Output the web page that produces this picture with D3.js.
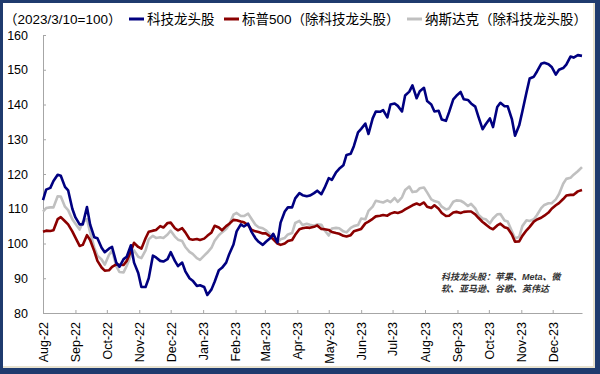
<!DOCTYPE html>
<html>
<head>
<meta charset="utf-8">
<script src="https://cdn.jsdelivr.net/npm/d3@7"></script>
<style>
  body { margin: 0; background: #fff; }
  text { font-family: Arial, "Liberation Sans", "Noto Sans CJK SC", sans-serif; }
</style>
</head>
<body>
<div id="chart"></div>
<script>
// values, twice a week
var dates = ["2022-08-01","2022-08-04","2022-08-08","2022-08-11","2022-08-15","2022-08-18","2022-08-22","2022-08-25","2022-08-29","2022-09-01","2022-09-05","2022-09-08","2022-09-12","2022-09-15","2022-09-19","2022-09-22","2022-09-26","2022-09-29","2022-10-03","2022-10-06","2022-10-10","2022-10-13","2022-10-17","2022-10-20","2022-10-24","2022-10-27","2022-10-31","2022-11-03","2022-11-07","2022-11-10","2022-11-14","2022-11-17","2022-11-21","2022-11-24","2022-11-28","2022-12-01","2022-12-05","2022-12-08","2022-12-12","2022-12-15","2022-12-19","2022-12-22","2022-12-26","2022-12-29","2023-01-02","2023-01-05","2023-01-09","2023-01-12","2023-01-16","2023-01-19","2023-01-23","2023-01-26","2023-01-30","2023-02-02","2023-02-06","2023-02-09","2023-02-13","2023-02-16","2023-02-20","2023-02-23","2023-02-27","2023-03-02","2023-03-06","2023-03-09","2023-03-13","2023-03-16","2023-03-20","2023-03-23","2023-03-27","2023-03-30","2023-04-03","2023-04-06","2023-04-10","2023-04-13","2023-04-17","2023-04-20","2023-04-24","2023-04-27","2023-05-01","2023-05-04","2023-05-08","2023-05-11","2023-05-15","2023-05-18","2023-05-22","2023-05-25","2023-05-29","2023-06-01","2023-06-05","2023-06-08","2023-06-12","2023-06-15","2023-06-19","2023-06-22","2023-06-26","2023-06-29","2023-07-03","2023-07-06","2023-07-10","2023-07-13","2023-07-17","2023-07-20","2023-07-24","2023-07-27","2023-07-31","2023-08-03","2023-08-07","2023-08-10","2023-08-14","2023-08-17","2023-08-21","2023-08-24","2023-08-28","2023-08-31","2023-09-04","2023-09-07","2023-09-11","2023-09-14","2023-09-18","2023-09-21","2023-09-25","2023-09-28","2023-10-02","2023-10-05","2023-10-09","2023-10-12","2023-10-16","2023-10-19","2023-10-23","2023-10-26","2023-10-30","2023-11-02","2023-11-06","2023-11-09","2023-11-13","2023-11-16","2023-11-20","2023-11-23","2023-11-27","2023-11-30","2023-12-04","2023-12-07","2023-12-11","2023-12-14","2023-12-18","2023-12-21","2023-12-25","2023-12-29"];

var techValues = [112.5,115.5,116,118,119.8,119.5,116.3,115.3,110,107.5,105.5,105.5,110.5,105.5,101.8,101.5,98.8,97.5,98.5,99,94.5,93.3,95.5,96.2,99.5,94.5,91.5,87.5,87.5,90,96.5,96,95,94.8,95.5,97.5,95,93.5,94.5,92,90,89.3,87.8,88,87.5,85.2,86.8,89,92.3,93,94.5,97,99.7,103.5,105.5,104.9,105.7,103.5,101.5,100.5,99.6,100.5,101.5,102.8,100.3,106,109.2,110.4,110.4,113,114.5,113.9,113.6,113.8,114.5,115.2,114.2,116,118.8,118.3,120.5,121.5,122.5,125.5,125.8,128,132,133,134.5,131.5,136,138,137.9,138.4,136.3,140,140.3,139.6,138,142.6,143.7,145.5,141.8,143.8,144.8,141,140,138,138.2,135.7,135.3,137.8,141.5,142.5,143.6,141.5,141.3,140.3,139.4,136.5,132.9,134.3,136,133.5,139.3,140.5,139.5,139.5,135.8,131,134,138,143.5,147.5,148,149.5,151.7,152,151.6,150.8,148.6,150,150.5,151.5,153.8,153.5,154.2,154];

var spxValues = [103.4,103.7,103.6,103.8,107,107.6,106.4,105.5,103.5,101.7,99.3,99.6,102.4,101,97.8,95,93.1,92.2,92.3,93.3,94,93.9,93.8,95,97.8,100.2,99,98.5,101.5,103.4,103.7,103.9,105,104.6,105.9,106,104.4,103.8,104.4,103.2,101.3,101.1,101.3,101,101.4,102.2,103.2,105.1,104.6,103.8,105,105.7,106.8,106.7,106.3,106.1,105.3,104,103.5,103.3,102.9,102.9,102,101.2,100,99.6,100,100.7,101,102.5,104.1,104.4,104.6,104.5,104.8,105.2,104.2,104.1,103.9,103.3,103,102.8,102.2,102,102.4,103.5,103.9,104.2,105.8,106.3,107.1,107.8,108,108.2,108,108.6,109,108.8,109.2,109.8,110.5,111,111.5,111.1,111.8,110.6,110.2,111,110,108.8,107.9,108,108.9,109.1,108.8,109.1,109.2,109.2,108.4,107.4,106.2,105.5,104.5,104.1,105.2,105.7,104.7,104.4,102.6,100.5,100.6,102.2,103.8,104.8,106.3,106.9,107.4,108,108.9,110,111,111.6,112.8,113.8,114,114,115,115.4];

var nasdaqValues = [109.2,110.2,110.4,110.4,113.6,113.5,110.6,109.6,107,105.7,104,106.2,107,103.2,98.8,96.5,95.4,93.9,96.7,98,93.5,91.8,91.7,93.6,96.5,98,96.2,95.8,98,101.2,102.2,101.6,101.8,101.6,102.6,103.7,102,101.1,100.7,99,97.6,97,95.8,95.3,96.5,97.4,98.8,100.8,102.4,103.2,104.2,105.5,108.3,108.8,107.9,107.9,108.6,107.2,105.4,104.7,104.4,103.8,102.6,101.4,100.2,101.2,101.6,102.6,103,105.9,106.5,105.3,105.7,105.4,105.1,105.5,105.4,103.8,102.3,104.3,104.5,104.4,103.5,103.2,104.5,105,105.3,107.2,107,109.4,110.6,112.3,112,111.8,112.4,111.9,113.1,112,113.3,115.4,116.4,114.8,115,115.9,116.1,114.7,112.7,112.2,111.9,110.6,109.8,110.1,112,112.4,112.3,111.8,110.8,111.4,110.1,108.3,107.2,107,105.8,107.2,108.4,108.5,106.6,106.3,103.5,101.5,101.9,105,106.7,106.5,107,108.2,110.2,111.1,111.6,111.6,112.7,114.2,117.2,118.6,118.9,119.8,120.8,122];

var seriesNames = ["科技龙头股", "标普500（除科技龙头股）", "纳斯达克（除科技龙头股）"];
var seriesColors = ["#000080", "#8B0000", "#C0C0C0"];
var monthTicks = ["2022-08-01","2022-09-01","2022-10-01","2022-11-01","2022-12-01","2023-01-01","2023-02-01","2023-03-01","2023-04-01","2023-05-01","2023-06-01","2023-07-01","2023-08-01","2023-09-01","2023-10-01","2023-11-01","2023-12-01"];
var yTicks = [80, 90, 100, 110, 120, 130, 140, 150, 160];
var unitLabel = "（2023/3/10=100）";
var noteLines = ["科技龙头股：苹果、Meta、微", "软、亚马逊、谷歌、英伟达"];

var width = 600, height = 374;
var parseDate = d3.timeParse("%Y-%m-%d");

var svg = d3.select("#chart").append("svg")
    .attr("width", width)
    .attr("height", height);

// frame
svg.append("rect").attr("width", width).attr("height", height).attr("fill", "#1F3B6E");
svg.append("rect").attr("x", 3).attr("y", 3).attr("width", 592).attr("height", 365).attr("fill", "#E8E2CF");
svg.append("rect").attr("x", 3).attr("y", 3).attr("width", 590).attr("height", 363).attr("fill", "#FFFFFF");

var x = d3.scaleTime()
    .domain([parseDate(dates[0]), parseDate(dates[dates.length - 1])])
    .range([43, 582]);

var y = d3.scaleLinear()
    .domain([80, 160])
    .range([313, 35]);

var yAxis = svg.append("g")
    .attr("transform", "translate(43,0)")
    .call(d3.axisLeft(y).tickValues(yTicks).tickSizeInner(-3).tickSizeOuter(0).tickPadding(15));

var xAxis = svg.append("g")
    .attr("transform", "translate(0,313)")
    .call(d3.axisBottom(x).tickValues(monthTicks.map(parseDate))
        .tickFormat(d3.timeFormat("%b-%y"))
        .tickSizeInner(-3).tickSizeOuter(0));

[yAxis, xAxis].forEach(function(g) {
    g.select(".domain").attr("stroke", "#A6A6A6");
    g.selectAll(".tick line").attr("stroke", "#A6A6A6");
    g.selectAll("text").attr("fill", "#000").style("font-family", "Arial, 'Liberation Sans', sans-serif");
});
yAxis.selectAll("text").attr("font-size", 12.5);
xAxis.selectAll("text")
    .attr("font-size", 12.5)
    .attr("transform", "rotate(-90)")
    .attr("text-anchor", "end")
    .attr("x", -9)
    .attr("y", 0)
    .attr("dy", "0.35em");

var line = d3.line()
    .x(function(d) { return x(d.date); })
    .y(function(d) { return y(d.value); });

function toPoints(values) {
    return values.map(function(v, i) { return { date: parseDate(dates[i]), value: v }; });
}

var seriesValues = [techValues, spxValues, nasdaqValues];
// draw gray first, then red, blue on top
[2, 1, 0].forEach(function(k) {
    svg.append("path")
        .datum(toPoints(seriesValues[k]))
        .attr("d", line)
        .attr("fill", "none")
        .attr("stroke", seriesColors[k])
        .attr("stroke-width", 2.6)
        .attr("stroke-linejoin", "round");
});

// legend
svg.append("text")
    .attr("x", 4).attr("y", 24)
    .attr("font-size", 13.5)
    .text(unitLabel);

var legendX = [129, 224, 407];
seriesNames.forEach(function(name, k) {
    svg.append("line")
        .attr("x1", legendX[k]).attr("x2", legendX[k] + 15)
        .attr("y1", 19).attr("y2", 19)
        .attr("stroke", seriesColors[k])
        .attr("stroke-width", 3);
    svg.append("text")
        .attr("x", legendX[k] + 18).attr("y", 24)
        .attr("font-size", 13.5)
        .text(name);
});

// note
svg.selectAll(".note")
    .data(noteLines)
    .enter().append("text")
    .attr("class", "note")
    .attr("x", 441)
    .attr("y", function(d, i) { return 280 + i * 11.5; })
    .attr("font-size", 9)
    .attr("font-style", "italic")
    .attr("font-weight", "bold")
    .attr("fill", "#333")
    .text(function(d) { return d; });
</script>
</body>
</html>
